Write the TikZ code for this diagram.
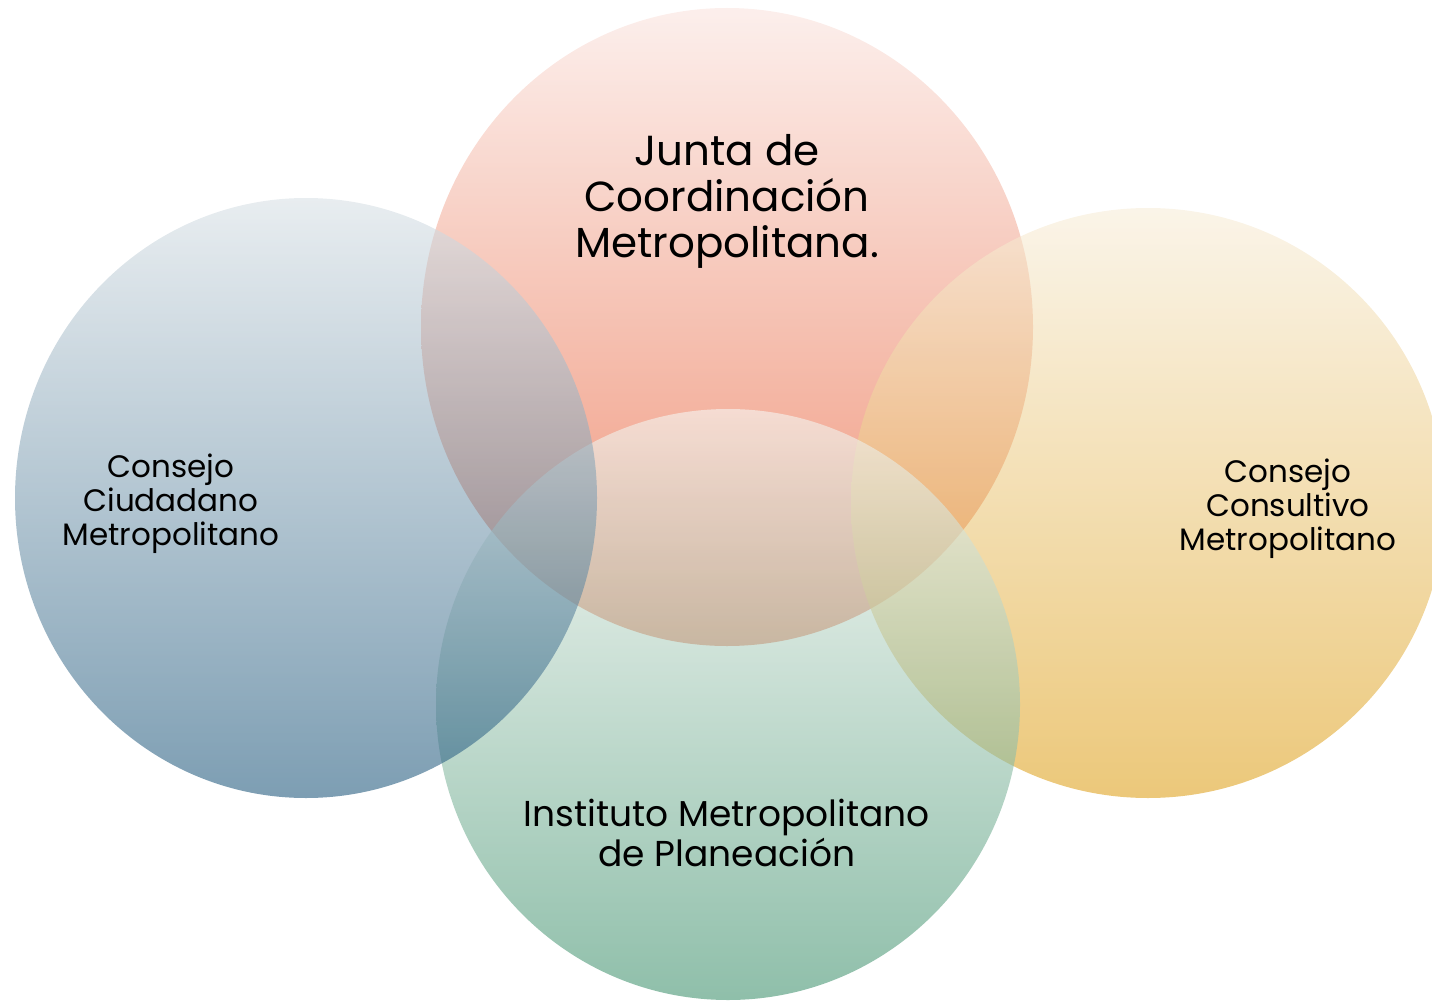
\documentclass[tikz,border=0pt]{standalone}
\usepackage{fontspec}
\setmainfont{Poppins}
\usetikzlibrary{shapes.geometric, positioning}

\definecolor{juntaTop}{RGB}{250,228,223}
\definecolor{juntaBot}{RGB}{228,73,27}
\definecolor{ciudTop}{RGB}{217,225,230}
\definecolor{ciudBot}{RGB}{38,93,128}
\definecolor{consTop}{RGB}{247,237,217}
\definecolor{consBot}{RGB}{223,163,33}
\definecolor{instTop}{RGB}{247,247,243}
\definecolor{instBot}{RGB}{68,148,113}

\begin{document}
\begin{tikzpicture}[x=1pt,y=-1pt]
\tikzstyle{bubble}=[ellipse, draw=none, fill opacity=0.6, inner sep=0pt]
\tikzstyle{label}=[align=center, inner sep=0pt, text=black]
\clip (0,0) rectangle (1432,1003);
% circles
\node [bubble, minimum width=612pt, minimum height=638pt, top color=juntaTop, bottom color=juntaBot] (junta) at (727,327) {};
\node [bubble, minimum width=594pt, minimum height=590pt, top color=consTop, bottom color=consBot] (cons) at (1148,503) {};
\node [bubble, minimum width=584pt, minimum height=591pt, top color=instTop, bottom color=instBot] (inst) at (728,704.5) {};
\node [bubble, minimum width=582pt, minimum height=600pt, top color=ciudTop, bottom color=ciudBot] (ciud) at (306,498) {};
% texts
\node [label, font=\fontsize{42}{46}\selectfont] (juntaText) at (727,201) {Junta de\\Coordinación\\Metropolitana.};
\node [label, font=\fontsize{31}{34}\selectfont] (ciudText) at (171,504) {Consejo\\Ciudadano\\Metropolitano};
\node [label, font=\fontsize{31}{34}\selectfont] (consText) at (1288,509) {Consejo\\Consultivo\\Metropolitano};
\node [label, font=\fontsize{36}{40}\selectfont] (instText) at (727,833) {Instituto Metropolitano\\de Planeación};
\end{tikzpicture}
\end{document}
